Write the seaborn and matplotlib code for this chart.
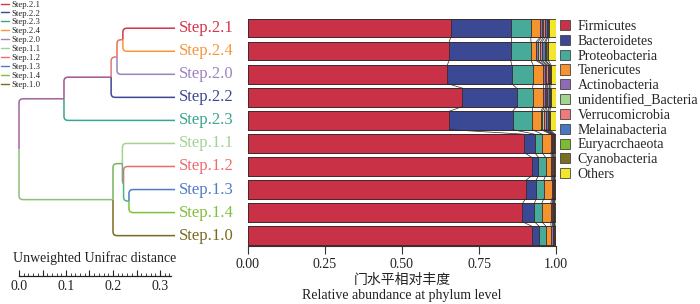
import numpy as np
import pandas as pd
import matplotlib
matplotlib.use("Agg")
import matplotlib.pyplot as plt
import seaborn as sns
from matplotlib.path import Path
from matplotlib.patches import PathPatch, Patch
from matplotlib.lines import Line2D
from matplotlib.ticker import MultipleLocator

sns.set_theme(style="white")
plt.rcParams["font.family"] = ["Liberation Serif", "Noto Sans CJK SC", "DejaVu Sans"]

# ---------------- data ----------------
samples = ["Step.2.1", "Step.2.4", "Step.2.0", "Step.2.2", "Step.2.3",
           "Step.1.1", "Step.1.2", "Step.1.3", "Step.1.4", "Step.1.0"]
legend_samples = ["Step.2.1", "Step.2.2", "Step.2.3", "Step.2.4", "Step.2.0",
                  "Step.1.1", "Step.1.2", "Step.1.3", "Step.1.4", "Step.1.0"]
phyla = ["Firmicutes", "Bacteroidetes", "Proteobacteria", "Tenericutes",
         "Actinobacteria", "unidentified_Bacteria", "Verrucomicrobia",
         "Melainabacteria", "Euryacrchaeota", "Cyanobacteria", "Others"]

firmicutes      = [0.658, 0.653, 0.647, 0.696, 0.654, 0.897, 0.921, 0.902, 0.891, 0.923]
bacteroidetes   = [0.195, 0.200, 0.209, 0.176, 0.205, 0.034, 0.022, 0.033, 0.039, 0.023]
proteobacteria  = [0.065, 0.066, 0.070, 0.052, 0.064, 0.024, 0.023, 0.025, 0.024, 0.022]
tenericutes     = [0.030, 0.016, 0.033, 0.035, 0.028, 0.028, 0.019, 0.026, 0.029, 0.016]
actinobacteria  = [0.005, 0.006, 0.004, 0.004, 0.005, 0.003, 0.003, 0.003, 0.004, 0.005]
unidentified    = [0.006, 0.008, 0.006, 0.005, 0.006, 0.002, 0.002, 0.002, 0.002, 0.002]
verrucomicrobia = [0.005, 0.006, 0.004, 0.004, 0.005, 0.002, 0.002, 0.002, 0.002, 0.002]
melainabacteria = [0.006, 0.008, 0.005, 0.005, 0.006, 0.002, 0.002, 0.002, 0.002, 0.002]
euryarchaeota   = [0.003, 0.004, 0.002, 0.002, 0.003, 0.001, 0.001, 0.001, 0.001, 0.001]
cyanobacteria   = [0.004, 0.008, 0.004, 0.004, 0.004, 0.004, 0.002, 0.002, 0.002, 0.002]
others          = [0.023, 0.025, 0.016, 0.017, 0.020, 0.003, 0.003, 0.002, 0.004, 0.002]

# dendrogram (tree, positions on the distance scale)
merge_names    = ["n1", "n2", "n3", "n4", "n5", "n6", "n7", "n8", "root"]
merge_left     = ["Step.2.1", "n1", "n2", "n3", "Step.1.3", "Step.1.2", "Step.1.1", "n7", "n4"]
merge_right    = ["Step.2.4", "Step.2.0", "Step.2.2", "Step.2.3", "Step.1.4", "n5", "n6", "Step.1.0", "n8"]
merge_position = [0.221, 0.2085, 0.196, 0.0957, 0.234, 0.2225, 0.220, 0.200, 0.0]
leaf_position  = 0.332

sample_colors = {
    "Step.2.1": "#d6344b", "Step.2.2": "#3d4894", "Step.2.3": "#3ba58e",
    "Step.2.4": "#f7963a", "Step.2.0": "#9d82c0", "Step.1.1": "#a4d292",
    "Step.1.2": "#f06b6e", "Step.1.3": "#4f7cc4", "Step.1.4": "#80bf3c",
    "Step.1.0": "#7a6a20",
}
node_colors = {
    "n1": "#ef6d50", "n2": "#dd7a78", "n3": "#a2558f", "n4": "#a0649c",
    "n5": "#52b486", "n6": "#5fb68c", "n7": "#79b35e", "n8": "#8cbf78",
}
phylum_colors = ["#c93246", "#3b4894", "#48aa98", "#f5942f", "#8e6bb4",
                 "#a3d48f", "#ee7b7b", "#4a78c0", "#7cbc30", "#7a7020", "#f2e62e"]

values = np.array([firmicutes, bacteroidetes, proteobacteria, tenericutes,
                   actinobacteria, unidentified, verrucomicrobia, melainabacteria,
                   euryarchaeota, cyanobacteria, others]).T
cum = np.cumsum(values, axis=1)
df = pd.DataFrame(cum, columns=phyla)
df["sample"] = samples

# ---------------- figure ----------------
W, H = 700, 304
fig = plt.figure(figsize=(7, 3.04), dpi=100)

def fx(px):
    return px / W

def fy(px):
    return 1 - px / H

top_px, bot_px = 19, 246
ax = fig.add_axes([fx(248), fy(bot_px), fx(556 - 248), (bot_px - top_px) / H])
edge = "#3b2a2c"
for k in reversed(range(len(phyla))):
    sns.barplot(data=df, x=phyla[k], y="sample", order=samples, orient="h",
                color=phylum_colors[k], saturation=1, width=0.8,
                edgecolor=edge, linewidth=0.6, ax=ax)
# connecting lines between neighbouring bars
for i in range(len(samples) - 1):
    for k in range(len(phyla) - 1):
        ax.plot([cum[i, k], cum[i + 1, k]], [i + 0.4, i + 0.6],
                color="#2a2a2a", lw=0.5, zorder=3)
ax.set_xlim(0, 1)
ax.set_ylim(9.45, -0.4)
ax.set_xlabel("")
ax.set_ylabel("")
ax.set_yticks([])
ax.set_xticks([0, 0.25, 0.5, 0.75, 1.0])
ax.set_xticklabels(["0.00", "0.25", "0.50", "0.75", "1.00"], fontsize=10)
for s in ["top", "right", "left"]:
    ax.spines[s].set_visible(False)
ax.spines["bottom"].set_color("#333333")
ax.spines["bottom"].set_linewidth(0.8)
ax.tick_params(axis="x", direction="out", length=6, width=0.8, color="#333333",
               pad=3, labelcolor="#222222", bottom=True)
fig.text(fx(402), fy(280), "门水平相对丰度", ha="center", va="center",
         fontsize=10, family=["Noto Sans CJK SC"], color="#222222")
fig.text(fx(402), fy(296), "Relative abundance at phylum level", ha="center",
         va="center", fontsize=10, color="#222222")

# right legend
handles = [Patch(facecolor=c, edgecolor="#444444", linewidth=0.6) for c in phylum_colors]
fig.legend(handles, phyla, loc="upper left", bbox_to_anchor=(fx(560), fy(20)),
           frameon=False, fontsize=10, handlelength=0.75, handleheight=0.75,
           handletextpad=0.5, labelspacing=0.13, borderpad=0, borderaxespad=0)

# ---------------- dendrogram ----------------
axd = fig.add_axes([0, fy(bot_px), fx(240), (bot_px - top_px) / H])
x0 = -19 / 470
x1 = 221 / 470
axd.set_xlim(x0, x1)
axd.set_ylim(9.45, -0.4)
axd.axis("off")

ypos = {s: i for i, s in enumerate(samples)}
xpos = {s: leaf_position for s in samples}
for name, l, r, p in zip(merge_names, merge_left, merge_right, merge_position):
    ypos[name] = (ypos[l] + ypos[r]) / 2
    xpos[name] = p
colors = dict(sample_colors)
colors.update(node_colors)

# radius of the rounded corners in data units (~4 px)
rx = 4 / 470
ry = 4 / 23.05

def link(parent, child):
    px_, py_ = xpos[parent], ypos[parent]
    cx_, cy_ = xpos[child], ypos[child]
    sgn = 1 if cy_ > py_ else -1
    dy = abs(cy_ - py_)
    r_y = min(ry, dy)
    r_x = min(rx, cx_ - px_) * (r_y / ry)
    verts = [(px_, py_), (px_, cy_ - sgn * r_y), (px_, cy_), (px_ + r_x, cy_), (cx_, cy_)]
    codes = [Path.MOVETO, Path.LINETO, Path.CURVE3, Path.CURVE3, Path.LINETO]
    axd.add_patch(PathPatch(Path(verts, codes), facecolor="none",
                            edgecolor=colors[child], lw=1.1, capstyle="butt"))

for name, l, r in zip(merge_names, merge_left, merge_right):
    link(name, l)
    link(name, r)

for s in samples:
    axd.text(leaf_position + 4 / 470, ypos[s], s, color=sample_colors[s],
             fontsize=12, ha="left", va="center")

# top-left legend
lh = [Line2D([0], [0], color=sample_colors[s], lw=1.0) for s in legend_samples]
fig.legend(lh, legend_samples, loc="upper left", bbox_to_anchor=(0.002, fy(0.5)),
           frameon=False, fontsize=6.3, handlelength=0.9, handletextpad=0.25,
           labelspacing=0.09, borderpad=0, borderaxespad=0)

# scale bar
axs = fig.add_axes([0, fy(276), fx(240), 4 / H])
axs.set_xlim(x0, x1)
axs.set_ylim(0, 1)
for s in ["top", "right", "left"]:
    axs.spines[s].set_visible(False)
axs.patch.set_alpha(0)
axs.spines["bottom"].set_bounds(0, 0.323)
axs.spines["bottom"].set_color("#222222")
axs.spines["bottom"].set_linewidth(0.9)
axs.set_yticks([])
axs.xaxis.set_minor_locator(MultipleLocator(0.01))
axs.set_xticks([t for t in np.arange(0, 0.33, 0.01)], minor=True)
axs.set_xticks([0, 0.05, 0.1, 0.15, 0.2, 0.25, 0.3])
axs.set_xticklabels(["0.0", "", "0.1", "", "0.2", "", "0.3"], fontsize=10)
axs.tick_params(axis="x", which="major", direction="in", length=4.5, width=0.8,
                pad=3, color="#222222", labelcolor="#222222", bottom=True)
axs.tick_params(axis="x", which="minor", direction="in", length=2.5, width=0.6,
                color="#222222", bottom=True)
fig.text(fx(95), fy(258), "Unweighted Unifrac distance", ha="center",
         va="center", fontsize=10, color="#222222")

fig.savefig("out.png", dpi=100)
